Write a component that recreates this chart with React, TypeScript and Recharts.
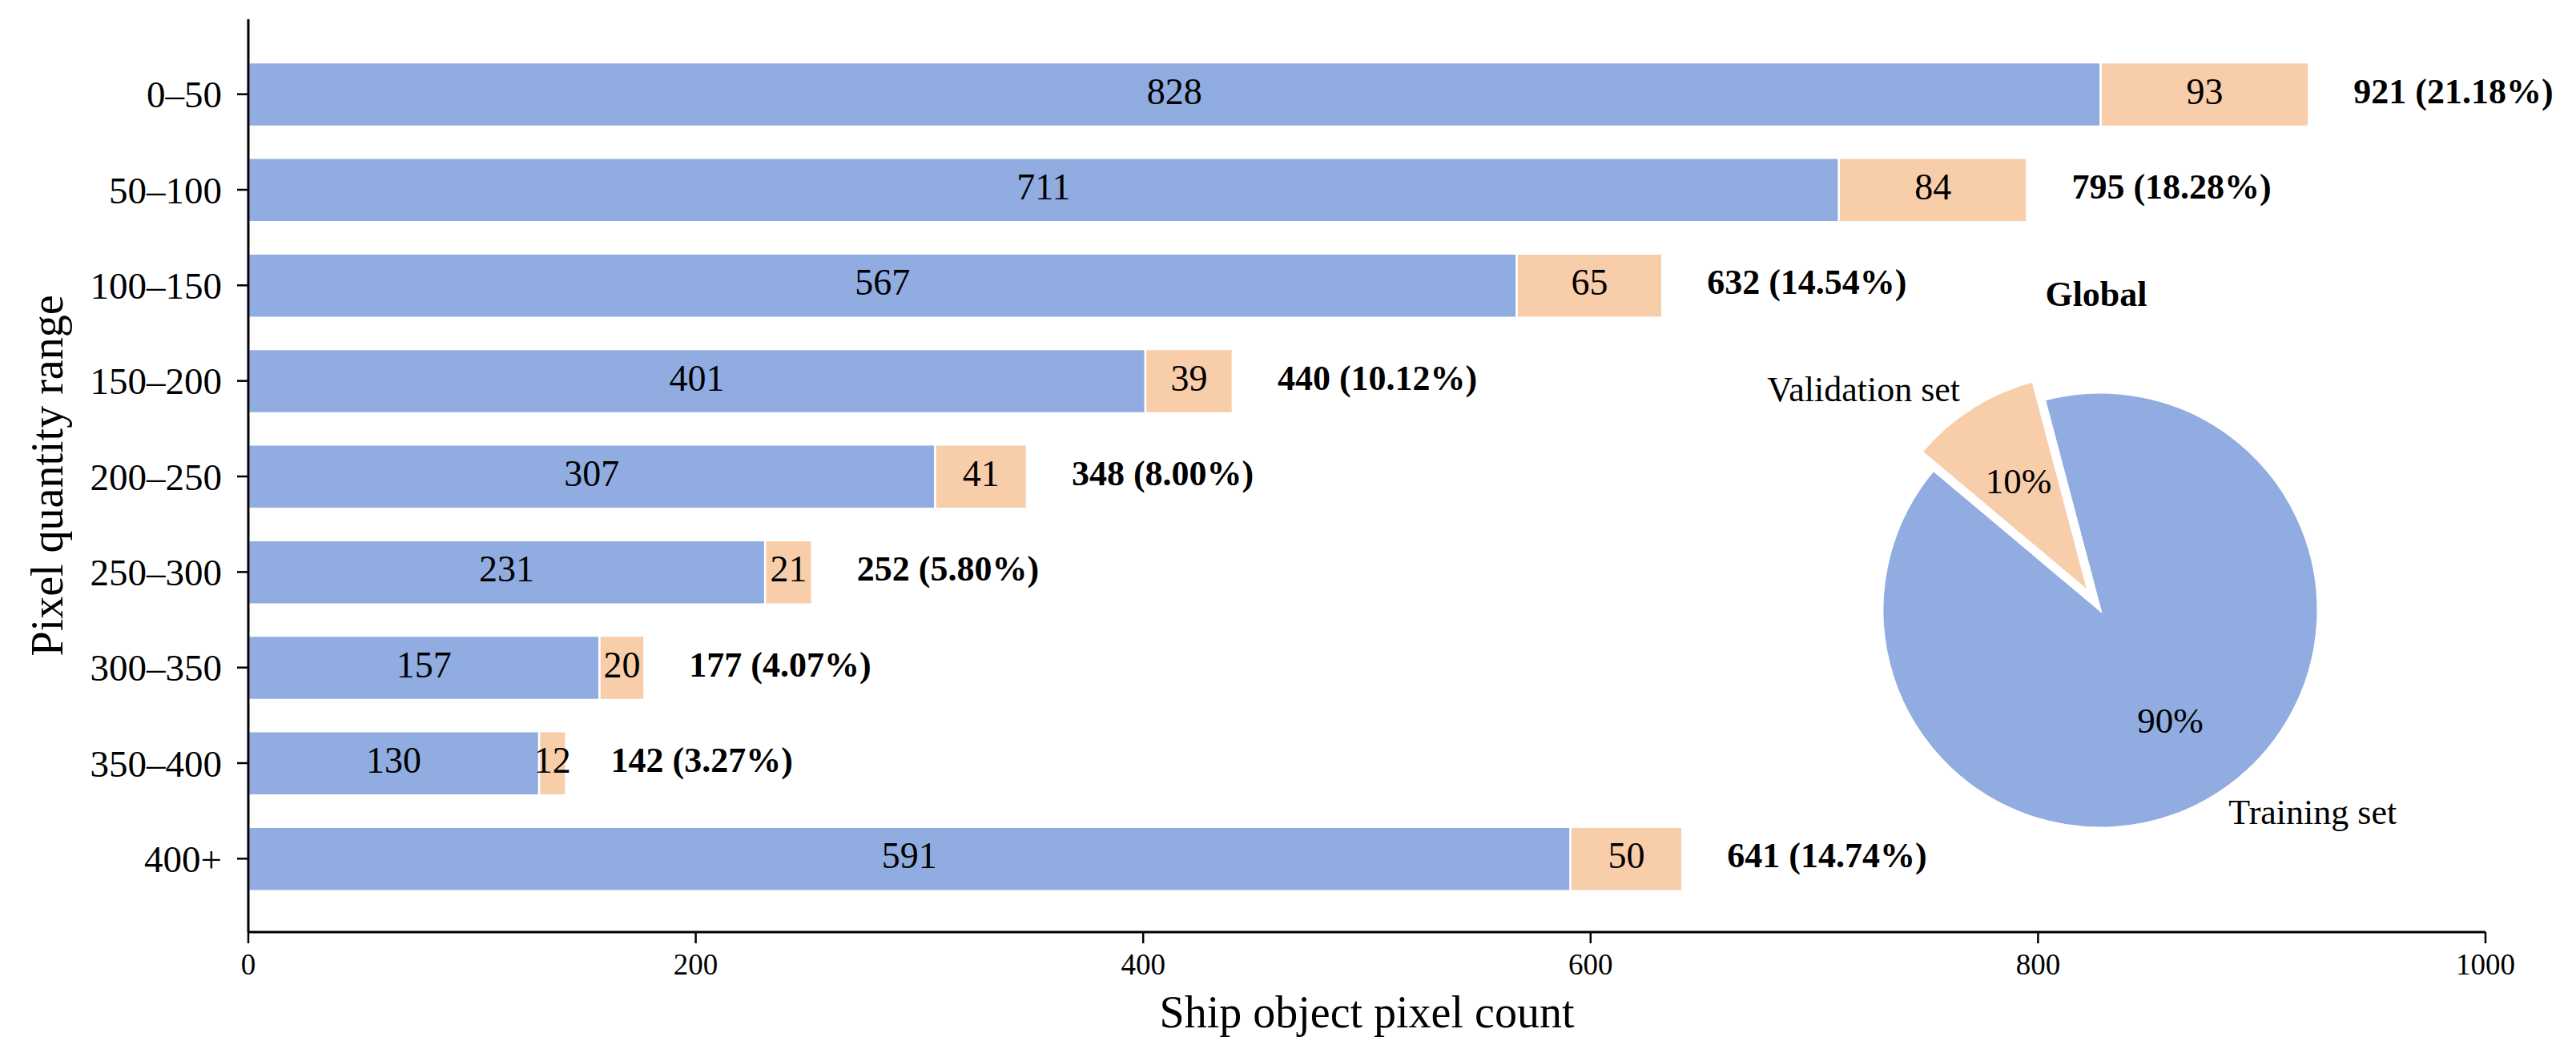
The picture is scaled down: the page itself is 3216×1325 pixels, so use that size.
import { Bar, BarChart, Cell, Label, LabelList, Pie, PieChart, XAxis, YAxis } from "recharts"

const ranges = ["0–50", "50–100", "100–150", "150–200", "200–250", "250–300", "300–350", "350–400", "400+"]
const trainCounts = [828, 711, 567, 401, 307, 231, 157, 130, 591]
const valCounts = [93, 84, 65, 39, 41, 21, 20, 12, 50]
const xTicks = [0, 200, 400, 600, 800, 1000]
const pieNames = ["Training set", "Validation set"]

const BLUE = "#91ACE0"
const ORANGE = "#F8CDAA"
const FONT = '"Liberation Serif", "Times New Roman", serif'
const RAD = Math.PI / 180

const sum = (xs: number[]) => xs.reduce((a, b) => a + b, 0)
const grandTotal = sum(trainCounts) + sum(valCounts)

const rows = ranges.map((range, i) => {
  const total = trainCounts[i] + valCounts[i]
  return {
    range,
    train: trainCounts[i],
    val: valCounts[i],
    totalLabel: `${total} (${((total / grandTotal) * 100).toFixed(2)}%)`,
  }
})

const pieData = [
  { name: pieNames[0], value: sum(trainCounts) },
  { name: pieNames[1], value: sum(valCounts) },
]

// pie geometry (matplotlib-style startangle + explode on the validation wedge)
const PIE_R = 272
const PIE_CX = 590
const PIE_CY = 450
const START = 140
const valMid = START + (360 * (pieData[0].value + pieData[1].value / 2)) / grandTotal
const EX = 0.1 * PIE_R * Math.cos(-valMid * RAD)
const EY = 0.1 * PIE_R * Math.sin(-valMid * RAD)

function centerLabel(props: any) {
  const { x, y, width, height, value } = props
  return (
    <text
      x={x + width / 2}
      y={y + height / 2 - 4}
      textAnchor="middle"
      dominantBaseline="central"
      fontSize={46}
      fontFamily={FONT}
      fill="#000"
    >
      {value}
    </text>
  )
}

function totalLabel(props: any) {
  const { x, y, width, height, value } = props
  return (
    <text
      x={x + width + 56}
      y={y + height / 2 - 4}
      textAnchor="start"
      dominantBaseline="central"
      fontSize={44}
      fontWeight="bold"
      fontFamily={FONT}
      fill="#000"
    >
      {value}
    </text>
  )
}

function xAxisTitle(props: any) {
  const vb = props.viewBox ?? { x: 310, y: 1164, width: 2793, height: 140 }
  return (
    <text x={vb.x + vb.width / 2} y={vb.y + 119} textAnchor="middle" fontSize={56} fontFamily={FONT} fill="#000">
      Ship object pixel count
    </text>
  )
}

function yAxisTitle(props: any) {
  const vb = props.viewBox ?? { x: 0, y: 24, width: 310, height: 1140 }
  const cx = vb.x + 78
  const cy = vb.y + vb.height / 2
  return (
    <text
      x={cx}
      y={cy}
      transform={`rotate(-90, ${cx}, ${cy})`}
      textAnchor="middle"
      fontSize={56}
      fontFamily={FONT}
      fill="#000"
    >
      Pixel quantity range
    </text>
  )
}

const pieLabel = (show: number) => (p: any) => {
  if (p.index !== show) return null
  const a = -p.midAngle * RAD
  const r = p.outerRadius
  const ox = p.cx + 1.1 * r * Math.cos(a)
  const oy = p.cy + 1.1 * r * Math.sin(a)
  const ix = p.cx + 0.6 * r * Math.cos(a)
  const iy = p.cy + 0.6 * r * Math.sin(a)
  return (
    <g>
      <text
        x={ox}
        y={oy}
        textAnchor={ox > PIE_CX ? "start" : "end"}
        dominantBaseline="central"
        fontSize={44}
        fontFamily={FONT}
        fill="#000"
      >
        {p.name}
      </text>
      <text x={ix} y={iy} textAnchor="middle" dominantBaseline="central" fontSize={45} fontFamily={FONT} fill="#000">
        {`${Math.round(p.percent * 100)}%`}
      </text>
    </g>
  )
}

export default function App() {
  return (
    <div style={{ position: "absolute", left: 0, top: 0, width: 3216, height: 1325, background: "#fff", fontFamily: FONT }}>
      <BarChart
        width={3216}
        height={1325}
        data={rows}
        layout="vertical"
        margin={{ top: 24, right: 113, bottom: 21, left: 0 }}
      >
        <Bar dataKey="train" stackId="s" fill={BLUE} stroke="#fff" strokeWidth={2.5} barSize={80} isAnimationActive={false}>
          <LabelList dataKey="train" content={centerLabel} />
        </Bar>
        <Bar dataKey="val" stackId="s" fill={ORANGE} stroke="#fff" strokeWidth={2.5} barSize={80} isAnimationActive={false}>
          <LabelList dataKey="val" content={centerLabel} />
          <LabelList dataKey="totalLabel" content={totalLabel} />
        </Bar>
        <XAxis
          type="number"
          domain={[0, 1000]}
          ticks={xTicks}
          height={140}
          tickSize={14}
          tickMargin={13}
          tick={{ fill: "#000", fontSize: 37, fontFamily: FONT }}
          axisLine={{ stroke: "#000", strokeWidth: 3 }}
          tickLine={{ stroke: "#000", strokeWidth: 2.5 }}
        >
          <Label content={xAxisTitle} />
        </XAxis>
        <YAxis
          type="category"
          dataKey="range"
          width={310}
          interval={0}
          padding={{ top: 34, bottom: 32 }}
          tickSize={14}
          tickMargin={19}
          tick={{ fill: "#000", fontSize: 47, fontFamily: FONT }}
          axisLine={{ stroke: "#000", strokeWidth: 3 }}
          tickLine={{ stroke: "#000", strokeWidth: 2.5 }}
        >
          <Label content={yAxisTitle} />
        </YAxis>
      </BarChart>

      <div style={{ position: "absolute", left: 2027, top: 307 }}>
        <PieChart width={1180} height={900}>
          <Pie
            data={pieData}
            dataKey="value"
            nameKey="name"
            cx={PIE_CX}
            cy={PIE_CY}
            outerRadius={PIE_R}
            startAngle={START}
            endAngle={START + 360}
            stroke="#fff"
            strokeWidth={3}
            label={pieLabel(0)}
            labelLine={false}
            isAnimationActive={false}
          >
            <Cell fill={BLUE} />
            <Cell fill="none" stroke="none" />
          </Pie>
          <Pie
            data={pieData}
            dataKey="value"
            nameKey="name"
            cx={PIE_CX + EX}
            cy={PIE_CY + EY}
            outerRadius={PIE_R}
            startAngle={START}
            endAngle={START + 360}
            stroke="#fff"
            strokeWidth={3}
            label={pieLabel(1)}
            labelLine={false}
            isAnimationActive={false}
          >
            <Cell fill="none" stroke="none" />
            <Cell fill={ORANGE} />
          </Pie>
        </PieChart>
      </div>

      <div
        style={{
          position: "absolute",
          left: 2417,
          top: 346,
          width: 400,
          textAlign: "center",
          fontSize: 44,
          lineHeight: "44px",
          fontWeight: "bold",
          fontFamily: FONT,
        }}
      >
        Global
      </div>
    </div>
  )
}
